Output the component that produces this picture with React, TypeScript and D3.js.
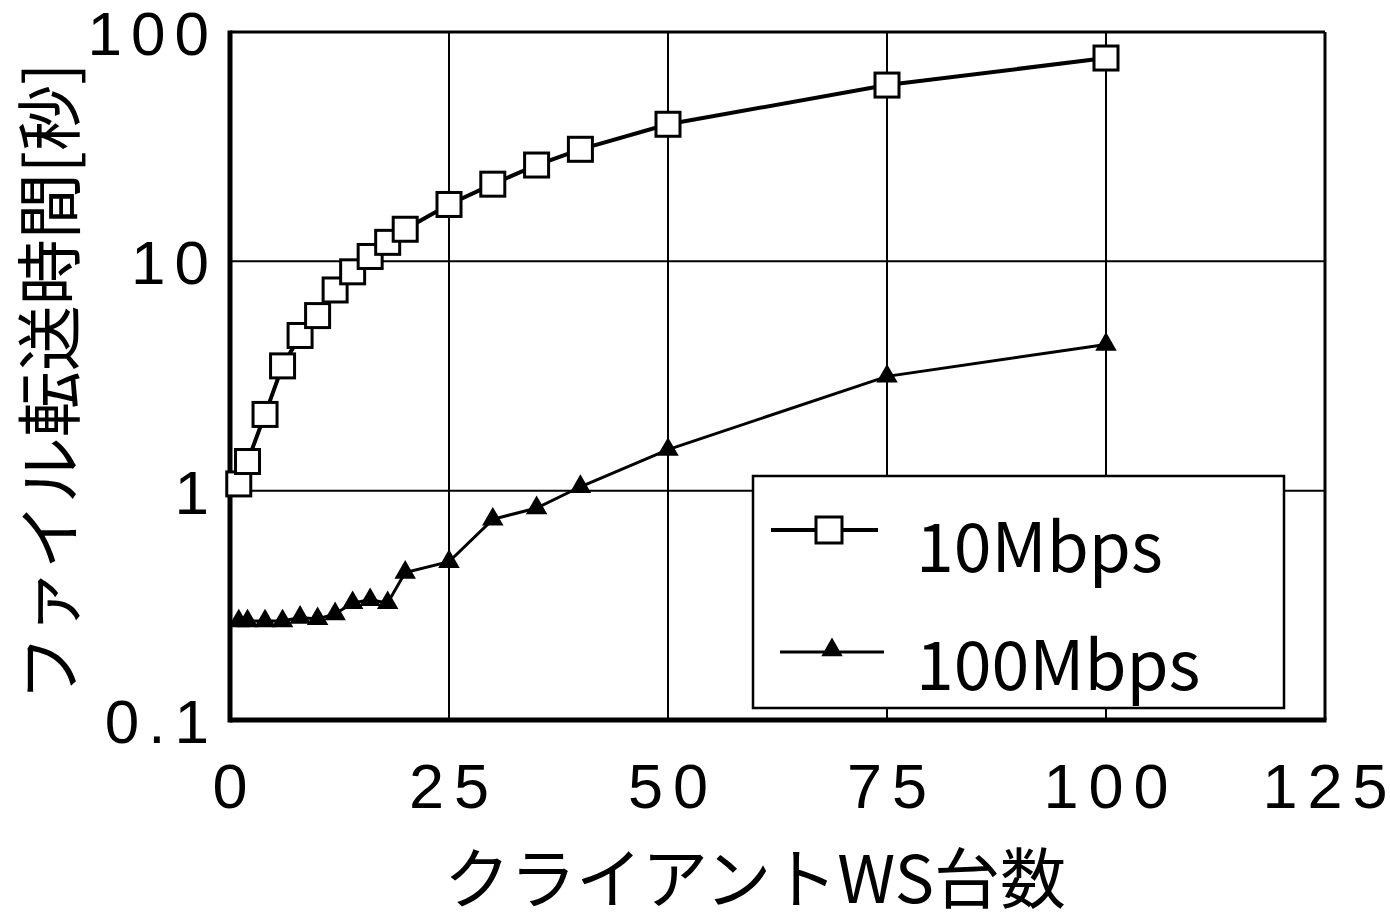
import * as d3 from 'd3';

// client WS counts (x) and transfer times in seconds
const clients = [1, 2, 4, 6, 8, 10, 12, 14, 16, 18, 20, 25, 30, 35, 40, 50, 75, 100];
const time10M = [1.07, 1.34, 2.15, 3.5, 4.75, 5.8, 7.5, 9.0, 10.5, 12.1, 13.8, 17.7, 21.7, 26.3, 30.8, 39.6, 58.7, 77];
const time100M = [0.27, 0.27, 0.27, 0.27, 0.28, 0.276, 0.29, 0.324, 0.334, 0.324, 0.44, 0.49, 0.75, 0.84, 1.04, 1.51, 3.15, 4.34];

const xTicks = [0, 25, 50, 75, 100, 125];
const yTicks = [0.1, 1, 10, 100];
const yTickLabels = ['0.1', '1', '10', '100'];
const seriesNames = ['10Mbps', '100Mbps'];

const W = 1390;
const H = 915;
const M = { left: 230, right: 1325, top: 32, bottom: 720 };
const FONT = '"Noto Sans CJK JP", "Noto Sans", sans-serif';
const NUM_FONT = '"Liberation Sans", Arial, sans-serif';

export default function App() {
  const x = d3.scaleLinear().domain([0, 125]).range([M.left, M.right]);
  const y = d3.scaleLog().domain([0.1, 100]).range([M.bottom, M.top]);

  const pts10 = clients.map((c, i) => [c, time10M[i]] as [number, number]);
  const pts100 = clients.map((c, i) => [c, time100M[i]] as [number, number]);

  const line = d3.line<[number, number]>()
    .x(d => x(d[0]))
    .y(d => y(d[1]));

  const tri = d3.symbol(d3.symbolTriangle, 200)() || '';
  const sq = 24;

  // legend layout
  const lg = { x: 753, y: 476, w: 531, h: 232 };
  const lgRows = [lg.y + 54, lg.y + 176];

  return (
    <svg width={W} height={H} style={{ position: 'absolute', left: 0, top: 0, background: '#fff' }}
      fontFamily={FONT}>
      {/* grid */}
      {xTicks.filter(t => t > 0 && t < 125).map(t => (
        <line key={'gx' + t} x1={x(t)} x2={x(t)} y1={M.top} y2={M.bottom} stroke="#000" strokeWidth={2} />
      ))}
      {yTicks.filter(t => t > 0.1 && t < 100).map(t => (
        <line key={'gy' + t} x1={M.left} x2={M.right} y1={y(t)} y2={y(t)} stroke="#000" strokeWidth={2} />
      ))}

      {/* frame */}
      <line x1={M.left} x2={M.right} y1={M.top} y2={M.top} stroke="#000" strokeWidth={3} />
      <line x1={M.right} x2={M.right} y1={M.top} y2={M.bottom} stroke="#000" strokeWidth={3} />
      <line x1={M.left} x2={M.left} y1={M.top - 1.5} y2={M.bottom + 2.5} stroke="#000" strokeWidth={5} />
      <line x1={M.left} x2={M.right + 1.5} y1={M.bottom} y2={M.bottom} stroke="#000" strokeWidth={5} />

      {/* 100Mbps */}
      <path d={line(pts100) || ''} fill="none" stroke="#000" strokeWidth={3} />
      {pts100.map((d, i) => (
        <path key={'t' + i} d={tri} transform={`translate(${x(d[0])},${y(d[1])})`} fill="#000" />
      ))}

      {/* 10Mbps */}
      <path d={line(pts10) || ''} fill="none" stroke="#000" strokeWidth={4} />
      {pts10.map((d, i) => (
        <rect key={'s' + i} x={x(d[0]) - sq / 2} y={y(d[1]) - sq / 2} width={sq} height={sq}
          fill="#fff" stroke="#000" strokeWidth={3} />
      ))}

      {/* legend */}
      <rect x={lg.x} y={lg.y} width={lg.w} height={lg.h} fill="#fff" stroke="#000" strokeWidth={2.5} />
      <line x1={lg.x + 18} x2={lg.x + 125} y1={lgRows[0]} y2={lgRows[0]} stroke="#000" strokeWidth={4} />
      <rect x={lg.x + 76 - 13} y={lgRows[0] - 13} width={26} height={26} fill="#fff" stroke="#000" strokeWidth={3} />
      <text x={lg.x + 163} y={lgRows[0] + 42} fontSize={68}>{seriesNames[0]}</text>
      <line x1={lg.x + 27} x2={lg.x + 131} y1={lgRows[1]} y2={lgRows[1]} stroke="#000" strokeWidth={3} />
      <path d={tri} transform={`translate(${lg.x + 79},${lgRows[1] - 2})`} fill="#000" />
      <text x={lg.x + 163} y={lgRows[1] + 38} fontSize={68}>{seriesNames[1]}</text>

      {/* x ticks */}
      {xTicks.map(t => (
        <text key={'xt' + t} x={x(t) + 5} y={808} fontFamily={NUM_FONT} fontSize={63} letterSpacing={10}
          textAnchor="middle">{t}</text>
      ))}
      {/* y ticks */}
      {yTicks.map((t, i) => (
        <text key={'yt' + t} x={218} y={y(t) + 23} fontFamily={NUM_FONT} fontSize={62} letterSpacing={9}
          textAnchor="end">{yTickLabels[i]}</text>
      ))}

      {/* axis titles */}
      <text x={755} y={903} fontSize={66} textAnchor="middle">クライアントWS台数</text>
      <text transform={`translate(74,${(M.top + M.bottom) / 2 + 6}) rotate(-90)`} fontSize={66} textAnchor="middle">
        ファイル転送時間[秒]
      </text>
    </svg>
  );
}
